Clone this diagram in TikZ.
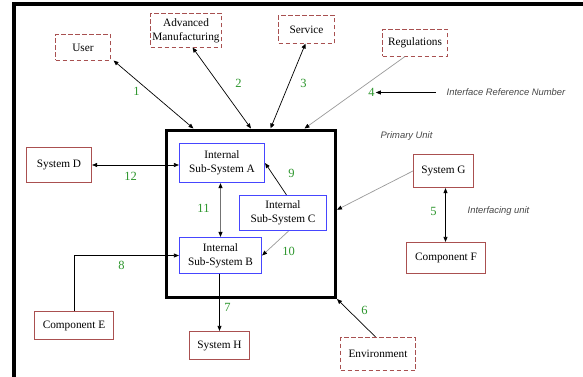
\documentclass[tikz,border=0pt]{standalone}
\usepackage{fontspec}
\setmainfont{Liberation Serif}
\newfontfamily\arialf{Liberation Sans}
\usetikzlibrary{arrows.meta,calc}
\definecolor{dashred}{RGB}{168,80,80}
\definecolor{solidred}{RGB}{170,80,80}
\definecolor{intblue}{RGB}{70,70,255}
\definecolor{numgreen}{RGB}{45,150,45}
\definecolor{notegray}{RGB}{70,70,70}
\begin{document}
\begin{tikzpicture}[x=1pt,y=-1pt,
  >={Triangle[length=5pt,width=4pt]},
  boxbase/.style={rectangle, inner sep=0pt, outer sep=0pt, align=center,
    font=\fontsize{11.3}{14}\selectfont},
  extbox/.style={boxbase, draw=dashred, line width=1.2pt, dash pattern=on 4.5pt off 2.5pt},
  solbox/.style={boxbase, draw=solidred, line width=1.3pt},
  intbox/.style={boxbase, draw=intblue, line width=1.3pt},
  primbox/.style={rectangle, draw=black, line width=3pt, inner sep=0pt},
  num/.style={text=numgreen, font=\fontsize{12.5}{13}\selectfont, inner sep=1pt},
  note/.style={font=\arialf\itshape\fontsize{9.4}{11}\selectfont, text=notegray, inner sep=0pt},
  conn/.style={line width=0.7pt, draw=black},
  gconn/.style={line width=0.7pt, draw=black!40},
  blacktip/.style={>={Triangle[length=5pt,width=4pt,fill=black,color=black]}},
  restroke/.style={line width=1.3pt}
]
\useasboundingbox (0,0) rectangle (583,377);
% outer frame
\draw[line width=3.5pt] (14,377) -- (14,4) -- (583,4);

\begin{scope}[shift={(0.5,0.5)}]
% external dashed boxes
\node[extbox, minimum width=55pt, minimum height=26pt] (usr) at (82.5,47) {User};
\node[extbox, minimum width=71pt, minimum height=34pt] (adv) at (185.5,30) {Advanced\\Manufacturing};
\node[extbox, minimum width=56pt, minimum height=28pt] (serv) at (306,29) {Service};
\node[extbox, minimum width=65pt, minimum height=27pt] (reg) at (414.5,42.5) {Regulations};
\node[extbox, minimum width=75pt, minimum height=33pt] (env) at (377.5,353.5) {Environment};

% solid boxes
\node[solbox, minimum width=65pt, minimum height=35pt] (sysD) at (58.5,164.5) {System D};
\node[solbox, minimum width=60pt, minimum height=33pt] (sysG) at (443,170.5) {System G};
\node[solbox, minimum width=79pt, minimum height=31pt] (compF) at (445.5,257.5) {Component F};
\node[solbox, minimum width=79pt, minimum height=28pt] (compE) at (73.5,325) {Component E};
\node[solbox, minimum width=60pt, minimum height=28pt] (sysH) at (219,345) {System H};

% primary unit
\node[primbox, minimum width=169pt, minimum height=167.5pt] (prim) at (250.5,213.25) {};
\node[intbox, minimum width=85pt, minimum height=39pt] (subA) at (221.5,162.5) {Internal\\Sub-System A};
\node[intbox, minimum width=87pt, minimum height=35pt] (subC) at (282.5,212.5) {Internal\\Sub-System C};
\node[intbox, minimum width=82pt, minimum height=36pt] (subB) at (220,255) {Internal\\Sub-System B};

% notes
\node[note, anchor=west] (pu) at (380,136) {Primary Unit};
\node[note, anchor=west] (irn) at (446,92) {Interface Reference Number};
\node[note, anchor=west] (iu) at (467,211) {Interfacing unit};

% numbers
\node[num] (n1) at (136,91) {1};
\node[num] (n2) at (238,83) {2};
\node[num] (n3) at (303,83) {3};
\node[num] (n4) at (371,92) {4};
\node[num] (n5) at (433,211) {5};
\node[num] (n6) at (364,310) {6};
\node[num] (n7) at (227,307) {7};
\node[num] (n8) at (121,265) {8};
\node[num] (n9) at (291,173) {9};
\node[num] (n10) at (288,251) {10};
\node[num] (n11) at (203,208) {11};
\node[num] (n12) at (130,176) {12};

% connectors
\draw[conn,<->] ([xshift=3pt]usr.south east) -- ([xshift=28.5pt]prim.north west);
\draw[conn,<->] ([xshift=6.5pt]adv.south) -- (prim.north);
\draw[conn,<->] ([xshift=-1pt]serv.south) -- ([xshift=19.5pt]prim.north);
\draw[gconn,->,blacktip] ([xshift=-10pt]reg.south) -- ([xshift=53.5pt]prim.north);
\draw[conn,->] ([xshift=-11pt]irn.west) -- (n4.east);
\draw[conn,<->] ([xshift=0.6pt]sysD.east) -- ([xshift=-0.6pt]sysD.east -| subA.west);
\draw[line width=0.9pt, draw=black!55, <->, blacktip] ([yshift=-0.6pt]subB.north |- subA.south) -- ([yshift=0.6pt]subB.north);
\draw[conn,->] ([xshift=3.5pt,yshift=0.6pt]subC.north) -- ([xshift=0.6pt]subA.east);
\draw[gconn,->,blacktip] ([xshift=5.5pt,yshift=-0.6pt]subC.south) -- ([xshift=0.6pt]subB.east);
\draw[gconn,->,blacktip] ([xshift=-0.6pt]sysG.west) -- ([yshift=4pt]prim.east);
\draw[conn,<->] ([xshift=2pt,yshift=-0.6pt]sysG.south) -- ([xshift=2pt,yshift=0.6pt]sysG.south |- compF.north);
\draw[conn,->] ([yshift=-0.6pt]sysH.north |- subB.south) -- ([yshift=0.6pt]sysH.north);
\draw[conn,->] ([yshift=0.6pt]compE.north) |- ([xshift=-0.6pt]subB.west);
\draw[conn,->] ([xshift=-2.5pt,yshift=0.6pt]env.north) -- (prim.south east);
% borders of the two boxes on the B-H line, stroked again on top
\draw[restroke, draw=intblue] (subB.north west) rectangle (subB.south east);
\draw[restroke, draw=solidred] (sysH.north west) rectangle (sysH.south east);
\end{scope}
\end{tikzpicture}
\end{document}
